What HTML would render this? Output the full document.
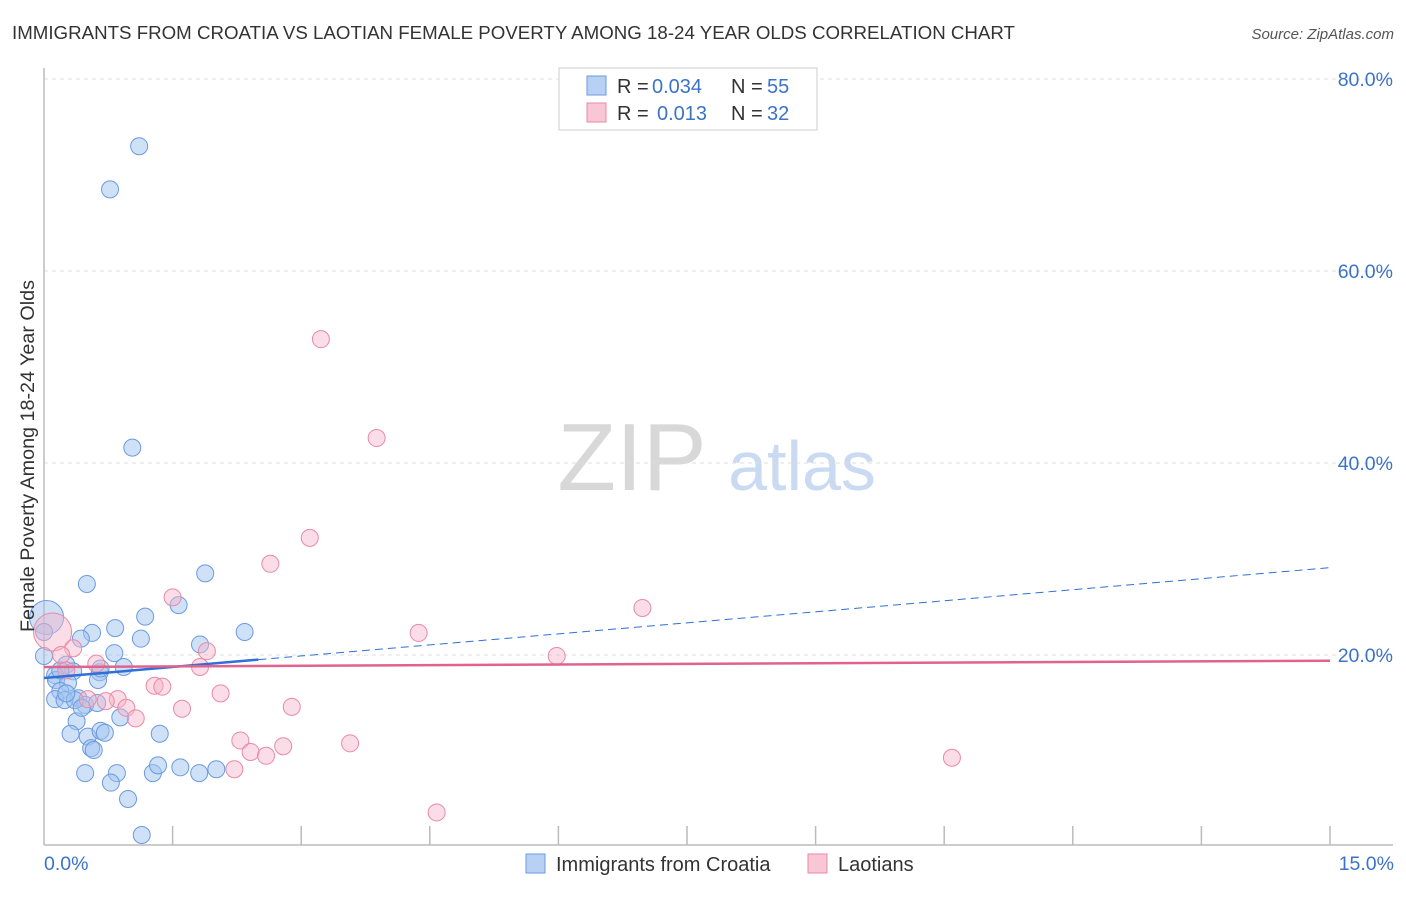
<!DOCTYPE html>
<html><head><meta charset="utf-8"><style>
body{margin:0;background:#fff;font-family:"Liberation Sans",sans-serif;}
svg text{font-family:"Liberation Sans",sans-serif;}
</style></head><body>
<svg id="chart" width="1406" height="892" xmlns="http://www.w3.org/2000/svg">
<text x="12" y="39" font-size="18.6" fill="#333" textLength="1003" lengthAdjust="spacingAndGlyphs">IMMIGRANTS FROM CROATIA VS LAOTIAN FEMALE POVERTY AMONG 18-24 YEAR OLDS CORRELATION CHART</text>
<text x="1394" y="39" font-size="15" fill="#555" text-anchor="end" font-style="italic">Source: ZipAtlas.com</text>
<g>
<text x="632" y="490" font-size="96" fill="#d8d8d8" text-anchor="middle" font-family="Liberation Serif">ZIP</text>
<text x="802" y="490" font-size="70" fill="#c9daf2" text-anchor="middle">atlas</text>
</g>
<g id="grid"></g>
<g id="axes"></g>
<g id="marks"></g>
<g id="trends"></g>
<text transform="translate(34,456) rotate(-90)" font-size="19" fill="#333" text-anchor="middle" textLength="352" lengthAdjust="spacingAndGlyphs">Female Poverty Among 18-24 Year Olds</text>
<text x="44" y="870" font-size="19.5" fill="#3b73c8">0.0%</text>
<text x="1394" y="870" font-size="19.5" fill="#3b73c8" text-anchor="end">15.0%</text>
<g>
<rect x="559" y="68" width="258" height="62" fill="#fff" stroke="#ccc"/>
<rect x="587" y="76" width="19" height="19" fill="#b8d0f4" stroke="#6b9ae0"/>
<rect x="587" y="103" width="19" height="19" fill="#f8c6d4" stroke="#e98aa7"/>
<text x="617" y="93" font-size="20" fill="#333">R =</text>
<text x="652" y="93" font-size="20" fill="#3b73c8">0.034</text>
<text x="731" y="93" font-size="20" fill="#333">N =</text>
<text x="767" y="93" font-size="20" fill="#3b73c8">55</text>
<text x="617" y="120" font-size="20" fill="#333">R =</text>
<text x="657" y="120" font-size="20" fill="#3b73c8">0.013</text>
<text x="731" y="120" font-size="20" fill="#333">N =</text>
<text x="767" y="120" font-size="20" fill="#3b73c8">32</text>
</g>
<g>
<rect x="526" y="854" width="19" height="19" fill="#b8d0f4" stroke="#6b9ae0"/>
<text x="556" y="871" font-size="20" fill="#333">Immigrants from Croatia</text>
<rect x="808" y="854" width="19" height="19" fill="#f8c6d4" stroke="#e98aa7"/>
<text x="838" y="871" font-size="20" fill="#333">Laotians</text>
</g>
</svg>
<script>
const yTicks=[20,40,60,80];
const yTickLabels=["20.0%","40.0%","60.0%","80.0%"];
const xTicks=[1.5,3,4.5,6,7.5,9,10.5,12,13.5,15];
const croatiaX=[1.11,0.77,1.03,1.88,0.50,1.57,1.18,0.56,2.34,0.83,0.43,1.13,1.82,0.82,0.03,0,0,0.26,0.13,0.34,0.93,0.65,0.63,0.14,0.28,0.19,0.40,0.13,0.24,0.48,0.62,0.89,0.38,0.31,0.51,0.66,0.71,1.35,0.55,0.58,0.48,0.85,1.27,1.33,1.59,1.81,2.01,0.78,0.98,1.14,0.19,0.36,0.44,0.66,0.26];
const croatiaY=[73.0,68.5,41.6,28.5,27.4,25.2,24.0,22.3,22.4,22.8,21.7,21.7,21.1,20.2,23.9,22.4,19.9,19.0,17.9,18.3,18.75,18.2,17.4,17.4,17.1,16.25,15.5,15.4,15.3,14.8,15.0,13.5,13.1,11.8,11.5,12.1,11.9,11.8,10.3,10.1,7.7,7.7,7.7,8.5,8.3,7.7,8.1,6.7,5.0,1.25,18.4,15.3,14.5,18.6,16.0];
const laotianX=[3.23,3.88,3.10,2.64,1.50,6.98,4.37,5.98,0.10,0.34,0.20,0.61,1.90,1.82,0.26,2.06,1.29,1.38,0.86,0.72,0.51,0.96,1.61,2.89,1.07,2.29,2.41,2.79,2.59,3.57,2.22,10.59,4.58];
const laotianY=[52.9,42.6,32.2,29.5,26.0,24.9,22.3,19.9,22.4,20.7,20.0,19.1,20.4,18.75,18.4,16.0,16.8,16.7,15.4,15.2,15.4,14.5,14.4,14.6,13.4,11.1,9.9,10.5,9.5,10.8,8.1,9.3,3.6];
const croatiaTrend=[17.6,29.1];
const laotianTrend=[18.75,19.4];
const croatiaSolidEnd=2.5;
const NS="http://www.w3.org/2000/svg";
const sx=v=>44+v*(1286/15);
const sy=v=>847-v*9.6;
function mk(tag,attrs,parent){const e=document.createElementNS(NS,tag);for(const k in attrs)e.setAttribute(k,attrs[k]);document.getElementById(parent).appendChild(e);return e;}
yTicks.forEach((t,i)=>{
 const l=mk('line',{x1:44,x2:1393,y1:sy(t),y2:sy(t),stroke:'#ddd','stroke-dasharray':'4,4'},'grid');
 
 
 const tx=mk('text',{x:1393,y:sy(t)+7,'font-size':19.5,fill:'#3b73c8','text-anchor':'end'},'grid');
 tx.textContent=yTickLabels[i];
 
 
});
const yAxisLine=mk('line',{x1:44,x2:44,y1:68,y2:845,stroke:'#bbb','stroke-width':1.5},'axes');


const xAxisLine=mk('line',{x1:44,x2:1393,y1:845,y2:845,stroke:'#bbb','stroke-width':1.5},'axes');


xTicks.forEach(t=>{
 const l=mk('line',{x1:sx(t),x2:sx(t),y1:826,y2:845,stroke:'#bbb','stroke-width':1.5},'axes');
 
 
});
croatiaX.forEach((x,i)=>{
 const big=(i===14);
 const c=mk('circle',{cx:sx(x),cy:sy(croatiaY[i]),r:big?17:8.5,fill:'rgba(160,195,240,0.5)',stroke:'#6b9ae0','stroke-width':1},'marks');
 
 
});
laotianX.forEach((x,i)=>{
 const big=(i===8);
 const c=mk('circle',{cx:sx(x),cy:sy(laotianY[i]),r:big?19:8.5,fill:'rgba(245,180,200,0.45)',stroke:'#e98aa7','stroke-width':1},'marks');
 
 
});
const cyf=x=>croatiaTrend[0]+(croatiaTrend[1]-croatiaTrend[0])*x/15;
const lyf=x=>laotianTrend[0]+(laotianTrend[1]-laotianTrend[0])*x/15;
const t1=mk('line',{x1:sx(0),y1:sy(cyf(0)),x2:sx(croatiaSolidEnd),y2:sy(cyf(croatiaSolidEnd)),stroke:'#2f6fd6','stroke-width':2.5},'trends');


const t2=mk('line',{x1:sx(croatiaSolidEnd),y1:sy(cyf(croatiaSolidEnd)),x2:sx(15),y2:sy(cyf(15)),stroke:'#2f6fd6','stroke-width':1,'stroke-dasharray':'8,5'},'trends');


const t3=mk('line',{x1:sx(0),y1:sy(lyf(0)),x2:sx(15),y2:sy(lyf(15)),stroke:'#e0638d','stroke-width':2.5},'trends');


</script>
</body></html>
